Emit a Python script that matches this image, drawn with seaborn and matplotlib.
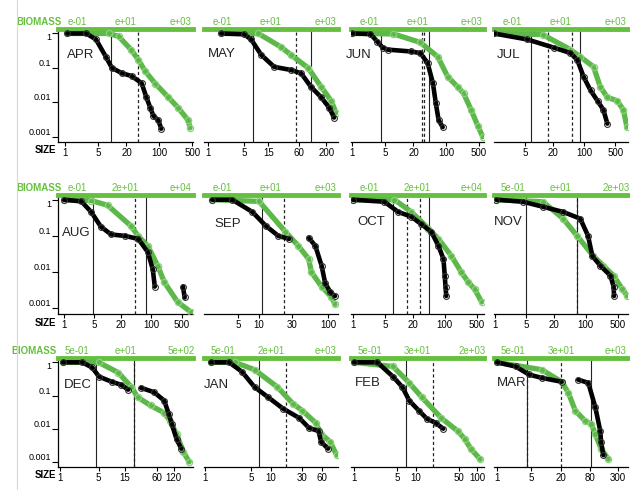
import numpy as np
import pandas as pd
import matplotlib
matplotlib.use("Agg")
import matplotlib.pyplot as plt
import seaborn as sns
from matplotlib.lines import Line2D

nan = np.nan

# --- data (size on x, fraction on y); nan = gap in the curve ---
months = ["APR", "MAY", "JUN", "JUL", "AUG", "SEP", "OCT", "NOV", "DEC", "JAN", "FEB", "MAR"]

apr_abund_x = [1.1, 2.8, 4.5, 7.3, 9.8, 16, 25.7, 42, 53, 64, 75, 95, 110]
apr_abund_y = [1, 1, 0.67, 0.21, 0.1, 0.07, 0.058, 0.036, 0.014, 0.007, 0.004, 0.003, 0.0017]
apr_biom_x = [1.1, 8.4, 13.7, 25, 36, 50, 82, 155, 250, 410, 450]
apr_biom_y = [1, 1, 0.82, 0.34, 0.17, 0.08, 0.035, 0.014, 0.007, 0.003, 0.0018]

may_abund_x = [1.8, 5, 6.9, 10.8, 19.4, 41, 65, 101, 160, 228, 285]
may_abund_y = [1, 0.95, 0.67, 0.24, 0.107, 0.087, 0.07, 0.028, 0.014, 0.007, 0.0036]
may_biom_x = [1.8, 9.5, 26, 41, 89, 160, 250, 310]
may_biom_y = [1, 1, 0.41, 0.24, 0.1, 0.028, 0.011, 0.005]

jun_abund_x = [1, 2.4, 3.4, 4.4, 5.6, 17.5, 28, 40, 52, 60, 69, 84]
jun_abund_y = [1, 0.97, 0.58, 0.39, 0.34, 0.3, 0.27, 0.14, 0.036, 0.0093, 0.003, 0.0019]
jun_biom_x = [1, 7.5, 28, 66, 108, 175, 236, 340, 470, 600]
jun_biom_y = [1, 0.97, 0.55, 0.21, 0.055, 0.028, 0.018, 0.006, 0.0021, 0.001]

jul_abund_x = [1, 5.5, 21, 50, 71, 98, 140, 200, 270, 330]
jul_abund_y = [1, 0.67, 0.39, 0.27, 0.17, 0.055, 0.022, 0.011, 0.006, 0.0024]
jul_biom_x = [1, 12, 50, 83, 163, 230, 330, 550, 750, 900]
jul_biom_y = [1, 0.93, 0.34, 0.21, 0.107, 0.028, 0.014, 0.011, 0.006, 0.0019]

aug_abund_x = [1, 2.5, 4.2, 7, 12, 25, 50, 83, 108, 120, nan, 530, 580]
aug_abund_y = [1, 0.9, 0.46, 0.18, 0.11, 0.1, 0.083, 0.036, 0.012, 0.004, nan, 0.004, 0.002]
aug_biom_x = [1, 4.2, 10, 34, 50, 83, 140, 200, 400, 800]
aug_biom_y = [1, 0.95, 0.7, 0.19, 0.1, 0.053, 0.015, 0.0052, 0.0015, 0.0008]

sep_abund_x = [2.1, 4.1, 8, 12.5, 19, 27, nan, 52, 65, 80, 90, 107, 125]
sep_abund_y = [1, 1, 0.46, 0.19, 0.1, 0.083, nan, 0.09, 0.053, 0.015, 0.005, 0.0028, 0.0022]
sep_biom_x = [2.1, 10, 24, 37, 52, 57, 80, 110, 125]
sep_biom_y = [1, 0.9, 0.13, 0.053, 0.023, 0.01, 0.004, 0.0021, 0.0013]

oct_abund_x = [1, 4.8, 9.7, 18.7, 31, 51, 73, 94, 100, 104, 108]
oct_abund_y = [1, 0.88, 0.46, 0.34, 0.21, 0.13, 0.053, 0.023, 0.008, 0.004, 0.0022]
oct_biom_x = [1, 8, 18.7, 44, 73, 140, 230, 330, 450, 640]
oct_biom_y = [1, 1, 0.46, 0.16, 0.083, 0.028, 0.01, 0.0052, 0.0034, 0.0015]

nov_abund_x = [1.1, 4.2, 11.5, 32, 76, 113, 140, 210, 350, 410, 420]
nov_abund_y = [1, 0.88, 0.64, 0.46, 0.3, 0.1, 0.028, 0.015, 0.008, 0.004, 0.0022]
nov_biom_x = [1.1, 11.5, 32, 65, 147, 245, 410, 640, 820]
nov_biom_y = [1, 0.88, 0.3, 0.1, 0.028, 0.015, 0.008, 0.0034, 0.0022]

dec_abund_x = [1.1, 2.5, 3.8, 5.1, 8.7, 13, 17.4, nan, 30, 52, 80, 97, 110, 135, 165]
dec_abund_y = [1, 1, 0.7, 0.37, 0.26, 0.21, 0.15, nan, 0.17, 0.126, 0.07, 0.028, 0.014, 0.0048, 0.0025]
dec_biom_x = [1.1, 5, 11.5, 20, 26, 45, 80, 103, 135, 180, 230]
dec_biom_y = [1, 1, 0.49, 0.18, 0.089, 0.05, 0.03, 0.017, 0.0068, 0.002, 0.001]

jan_abund_x = [1.2, 2.3, 3.6, 5.6, 9, 15.3, 27, 38, 53, 58, 74]
jan_abund_y = [1, 1, 0.52, 0.18, 0.089, 0.04, 0.021, 0.0105, 0.0085, 0.004, 0.0025]
jan_biom_x = [1.2, 2.8, 5.6, 12.5, 21.5, 30, 48, 58, 80, 100]
jan_biom_y = [1, 1, 0.6, 0.18, 0.057, 0.035, 0.015, 0.007, 0.004, 0.0016]

feb_abund_x = [1, 2.4, 4.3, 6.1, 7.9, 11.3, 15.2, 21, 28]
feb_abund_y = [1, 1, 0.37, 0.18, 0.07, 0.035, 0.02, 0.015, 0.01]
feb_biom_x = [1, 4.3, 7.9, 12.6, 26, 48, 62, 78, 111]
feb_biom_y = [1, 0.75, 0.24, 0.089, 0.021, 0.0085, 0.005, 0.0025, 0.0012]

mar_abund_x = [1, 2.4, 4.5, 8.2, 21, nan, 46, 74, 103, 130, 135, 150]
mar_abund_y = [1, 0.75, 0.43, 0.34, 0.26, nan, 0.3, 0.24, 0.044, 0.0085, 0.004, 0.0016]
mar_biom_x = [1, 8.2, 21, 29, 40, 64, 85, 103, 135, 190]
mar_biom_y = [1, 0.6, 0.26, 0.12, 0.035, 0.017, 0.014, 0.0068, 0.0025, 0.0012]

# vertical reference lines (size units)
solid_lines = [[9.5], [7.5, 101], [4, 42], [6.5, 80], [4.6, 75], [11],
               [7.5, 46], [5, 65], [4.5, 22], [6.5], [7], [4.1, 85]]
dashed_lines = [[36], [52], [30, 33], [15.5, 55], [42], [23],
                [15, 29], [65], [22], [17], [19], [4.1, 20]]

size_ticks = [[1, 5, 20, 100, 500], [1, 5, 15, 60, 200], [1, 5, 20, 100, 500], [5, 20, 100, 500],
              [1, 5, 20, 100, 500], [5, 10, 30, 100], [1, 5, 20, 100, 500], [1, 5, 20, 100, 500],
              [1, 5, 15, 60, 120], [1, 5, 10, 30, 60], [1, 5, 10, 50, 100], [1, 5, 20, 80, 300]]
biomass_labels = [["e-01", "e+01", "e+03"], ["e-01", "e+01", "e+03"], ["e-01", "e+01", "e+03"],
                  ["e-01", "e+01", "e+03"], ["e-01", "2e+01", "e+04"], ["e-01", "e+01", "e+03"],
                  ["e-01", "2e+01", "e+04"], ["5e-01", "e+01", "2e+03"], ["5e-01", "e+01", "5e+02"],
                  ["5e-01", "2e+01", "e+03"], ["5e-01", "3e+01", "2e+03"], ["5e-01", "3e+01", "e+03"]]
y_ticks = [1, 0.1, 0.01, 0.001]
y_tick_labels = ["1", "0.1", "0.01", "0.001"]

abund = [(apr_abund_x, apr_abund_y), (may_abund_x, may_abund_y), (jun_abund_x, jun_abund_y),
         (jul_abund_x, jul_abund_y), (aug_abund_x, aug_abund_y), (sep_abund_x, sep_abund_y),
         (oct_abund_x, oct_abund_y), (nov_abund_x, nov_abund_y), (dec_abund_x, dec_abund_y),
         (jan_abund_x, jan_abund_y), (feb_abund_x, feb_abund_y), (mar_abund_x, mar_abund_y)]
biom = [(apr_biom_x, apr_biom_y), (may_biom_x, may_biom_y), (jun_biom_x, jun_biom_y),
        (jul_biom_x, jul_biom_y), (aug_biom_x, aug_biom_y), (sep_biom_x, sep_biom_y),
        (oct_biom_x, oct_biom_y), (nov_biom_x, nov_biom_y), (dec_biom_x, dec_biom_y),
        (jan_biom_x, jan_biom_y), (feb_biom_x, feb_biom_y), (mar_biom_x, mar_biom_y)]

# --- layout (pixels of a 630x490 canvas) ---
xlims = [(0.7, 520), (0.83, 340), (0.93, 640), (1, 950), (0.73, 900), (1.6, 138),
         (0.9, 720), (0.97, 850), (0.9, 270), (0.95, 105), (0.9, 128), (0.87, 480)]
ylim = (0.0007, 1.35)
cols_px = [(58, 193), (204, 338), (351, 484), (494, 628)]
rows_px = [(29, 142), (195, 314), (358, 467)]
month_pos = [(0.07, 0.77), (0.03, 0.78), (-0.04, 0.77), (0.02, 0.77),
             (0.03, 0.68), (0.08, 0.76), (0.045, 0.77), (0.0, 0.77),
             (0.04, 0.75), (0.0, 0.75), (0.03, 0.77), (0.02, 0.77)]
top_pos = [0.14, 0.5, 0.91]
biomass_word_x = [0.03, 0.03, -0.01]

GREEN = "#5cb848"
BAR_GREEN = "#66c040"
W, H = 630, 490

sns.set_theme(style="white")
plt.rcParams["font.family"] = ["Liberation Sans", "DejaVu Sans"]


def to_frame(xs, ys):
    x = np.array(xs, dtype=float)
    y = np.array(ys, dtype=float)
    seg = np.cumsum(np.isnan(x))
    keep = ~np.isnan(x)
    return pd.DataFrame({"x": x[keep], "y": y[keep], "seg": seg[keep]})


fig = plt.figure(figsize=(W / 100, H / 100), dpi=100)
fig.add_artist(Line2D([17 / W, 17 / W], [0, 1], color="#d8d8d8", lw=0.8))

for i, month in enumerate(months):
    r, c = divmod(i, 4)
    x0, x1 = cols_px[c]
    top, bot = rows_px[r]
    ax = fig.add_axes([x0 / W, 1 - bot / H, (x1 - x0) / W, (bot - top) / H])
    ax.set_xscale("log")
    ax.set_yscale("log")

    for xv in solid_lines[i]:
        ax.axvline(xv, color="#222222", lw=0.8, zorder=1)
    for xv in dashed_lines[i]:
        ax.axvline(xv, color="#222222", lw=0.9, ls=(0, (2.5, 2)), zorder=1)

    sns.lineplot(data=to_frame(*biom[i]), x="x", y="y", units="seg", estimator=None,
                 sort=False, ax=ax, color=GREEN, lw=3.8, marker="o", markersize=4.5,
                 markerfacecolor="none", markeredgecolor="#8fd07f", markeredgewidth=0.9,
                 legend=False, zorder=3)
    sns.lineplot(data=to_frame(*abund[i]), x="x", y="y", units="seg", estimator=None,
                 sort=False, ax=ax, color="black", lw=3.3, marker="o", markersize=4.2,
                 markerfacecolor="none", markeredgecolor="#333333", markeredgewidth=0.8,
                 legend=False, zorder=4)

    ax.set_xlim(*xlims[i])
    ax.set_ylim(*ylim)
    ax.set_xlabel("")
    ax.set_ylabel("")
    ax.set_xticks(size_ticks[i])
    ax.set_xticklabels([str(t) for t in size_ticks[i]])
    ax.xaxis.set_minor_locator(matplotlib.ticker.NullLocator())
    ax.yaxis.set_minor_locator(matplotlib.ticker.NullLocator())
    ax.tick_params(axis="x", bottom=True, direction="out", length=3, width=0.8,
                   pad=1.5, labelsize=7, colors="black")

    for side in ["left", "right", "top", "bottom"]:
        ax.spines[side].set_visible(False)
    ax.spines["bottom"].set_visible(True)
    ax.spines["bottom"].set_color("black")
    ax.spines["bottom"].set_linewidth(0.9)
    ax.spines["top"].set_visible(True)
    ax.spines["top"].set_color(BAR_GREEN)
    ax.spines["top"].set_linewidth(3.5)

    if c == 0:
        ax.spines["left"].set_visible(True)
        ax.spines["left"].set_color("black")
        ax.spines["left"].set_linewidth(0.9)
        ax.set_yticks(y_ticks)
        ax.set_yticklabels(y_tick_labels)
        ax.tick_params(axis="y", left=True, direction="out", length=4, width=0.8,
                       pad=1, labelsize=6.5, colors="black")
        labels = ax.get_yticklabels()
        labels[0].set_verticalalignment("top")
        for t in labels[1:]:
            t.set_verticalalignment("bottom")
        ax.text(biomass_word_x[r], 1.06, "BIOMASS", transform=ax.transAxes, ha="right",
                va="center", fontsize=7, fontweight="bold", color=BAR_GREEN)
        ax.text(-0.01, -0.075, "SIZE", transform=ax.transAxes, ha="right", va="center",
                fontsize=7, fontweight="bold", color="black")
    else:
        ax.set_yticks([])

    for pos, lab in zip(top_pos, biomass_labels[i]):
        ax.text(pos, 1.06, lab, transform=ax.transAxes, ha="center", va="center",
                fontsize=7, color=BAR_GREEN)

    mx, my = month_pos[i]
    ax.text(mx, my, month, transform=ax.transAxes, ha="left", va="center",
            fontsize=9.5, color="#222222")

fig.savefig("out.png", dpi=100)
